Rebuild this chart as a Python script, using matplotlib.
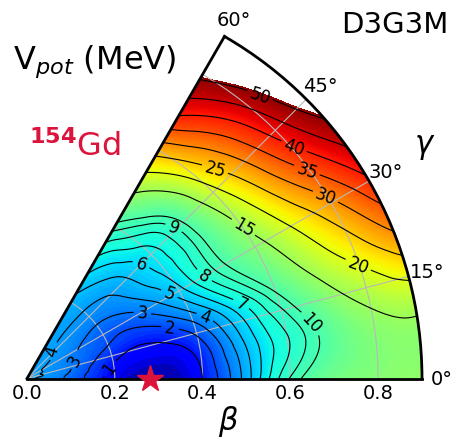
import numpy as np
import matplotlib
matplotlib.use('Agg')
import matplotlib.pyplot as plt
import matplotlib.tri as mtri
from matplotlib.colors import PowerNorm

# potential energy surface V(beta, gamma) in MeV
beta = [0.0, 0.1, 0.2, 0.3, 0.4, 0.5, 0.6, 0.7, 0.8, 0.9]
gamma = [0, 10, 20, 30, 40, 50, 60]  # degrees
v_g0 = [4.3, 2.7, 0.5, 0.0, 1.0, 4.5, 9.1, 12.3, 13.5, 14.3]
v_g10 = [4.3, 3.0, 1.0, 0.5, 1.5, 5.0, 8.0, 11.2, 14.3, 15.6]
v_g20 = [4.3, 3.2, 1.8, 1.5, 3.3, 6.6, 10.3, 15.5, 21.0, 27.5]
v_g30 = [4.3, 3.4, 2.4, 3.0, 5.6, 9.2, 13.5, 20.5, 29.0, 39.0]
v_g40 = [4.3, 3.8, 3.2, 4.2, 6.4, 9.5, 16.5, 27.0, 38.5, 49.0]
v_g50 = [4.3, 4.0, 4.0, 5.0, 7.2, 11.0, 21.0, 33.0, 45.0, 58.0]
v_g60 = [4.3, 4.1, 4.7, 6.5, 9.5, 16.0, 27.0, 41.0, 51.5, 66.0]

vmax = 52.0   # top of the colour scale
vcut = 50.5   # above this the surface is left blank
label_levels = [1, 2, 3, 4, 5, 6, 7, 8, 9, 10, 15, 20, 25, 30, 35, 40, 50]
plain_levels = [45]  # drawn but not labelled

# where the contour labels sit (gamma in deg, beta)
label_gamma = [8.4, 18.2, 30, 18.4, 18.9, 57, 31, 45.3, 19, 30.3, 45.2, 11.3,
               35.2, 18, 48, 32, 37.5, 41.7, 51]
label_beta = [0.186, 0.342, 0.304, 0.122, 0.428, 0.083, 0.379, 0.371, 0.515,
              0.469, 0.47, 0.663, 0.606, 0.788, 0.639, 0.807, 0.81, 0.822, 0.85]

# minimum
min_beta = 0.28
min_gamma = 0.0

plt.rcParams['font.family'] = ['DejaVu Sans']

V = np.array([v_g0, v_g10, v_g20, v_g30, v_g40, v_g50, v_g60])
G, B = np.meshgrid(np.radians(gamma), beta, indexing='ij')
tri = mtri.Triangulation(G.ravel(), B.ravel())
refiner = mtri.UniformTriRefiner(tri)
tri_f, v_f = refiner.refine_field(V.ravel(), subdiv=4)

fig = plt.figure(figsize=(4.55, 4.39), dpi=100)
# polar wedge is drawn smaller than its axes box, so the box is enlarged
ax = fig.add_axes([-4.5 / 455, 33 / 439, 458 / 455, 395 / 439], projection='polar')
ax.set_thetamin(0)
ax.set_thetamax(60)
ax.set_rlim(0, 0.9)

norm = PowerNorm(gamma=0.5, vmin=0, vmax=vmax, clip=True)
fill_levels = np.linspace(0, vcut, 203)
cf = ax.tricontourf(tri_f, v_f, levels=fill_levels, cmap='jet', norm=norm,
                    extend='min')
cf.set_edgecolor('face')
cf.set_linewidth(0.4)
ax.tricontour(tri_f, v_f, levels=plain_levels, colors='k', linewidths=0.8)
cs = ax.tricontour(tri_f, v_f, levels=label_levels, colors='k', linewidths=0.8)
ax.clabel(cs, manual=list(zip(np.radians(label_gamma), label_beta)),
          inline=True, fontsize=12, fmt='%d')

ax.plot(min_gamma, min_beta, marker='*', color='crimson', markersize=20,
        clip_on=False, zorder=10)

ax.set_thetagrids([0, 15, 30, 45, 60], labels=['0°', '15°', '30°', '45°', '60°'],
                  fontsize=14)
ax.set_rticks([0, 0.2, 0.4, 0.6, 0.8])
ax.set_yticklabels(['0.0', '0.2', '0.4', '0.6', '0.8'])
ax.tick_params(axis='y', labelsize=14, length=0)
ax.grid(True, color='#b8b8b8', lw=0.8)
for sp in ax.spines.values():
    sp.set_linewidth(2)

fig.text(13 / 455, 1 - 62 / 439, r'V$_{pot}$ (MeV)', fontsize=23, ha='left', va='center')
fig.text(29 / 455, 1 - 147 / 439, r'$^{\mathbf{154}}$Gd', color='crimson', fontsize=23,
         ha='left', va='center')
fig.text(448 / 455, 1 - 25 / 439, 'D3G3M', fontsize=21, ha='right', va='center')
fig.text(425 / 455, 1 - 147 / 439, r'$\gamma$', fontsize=22, ha='center', va='center')
fig.text(228 / 455, 1 - 422 / 439, r'$\beta$', fontsize=22, ha='center', va='center')

fig.savefig('out.png', dpi=100)
